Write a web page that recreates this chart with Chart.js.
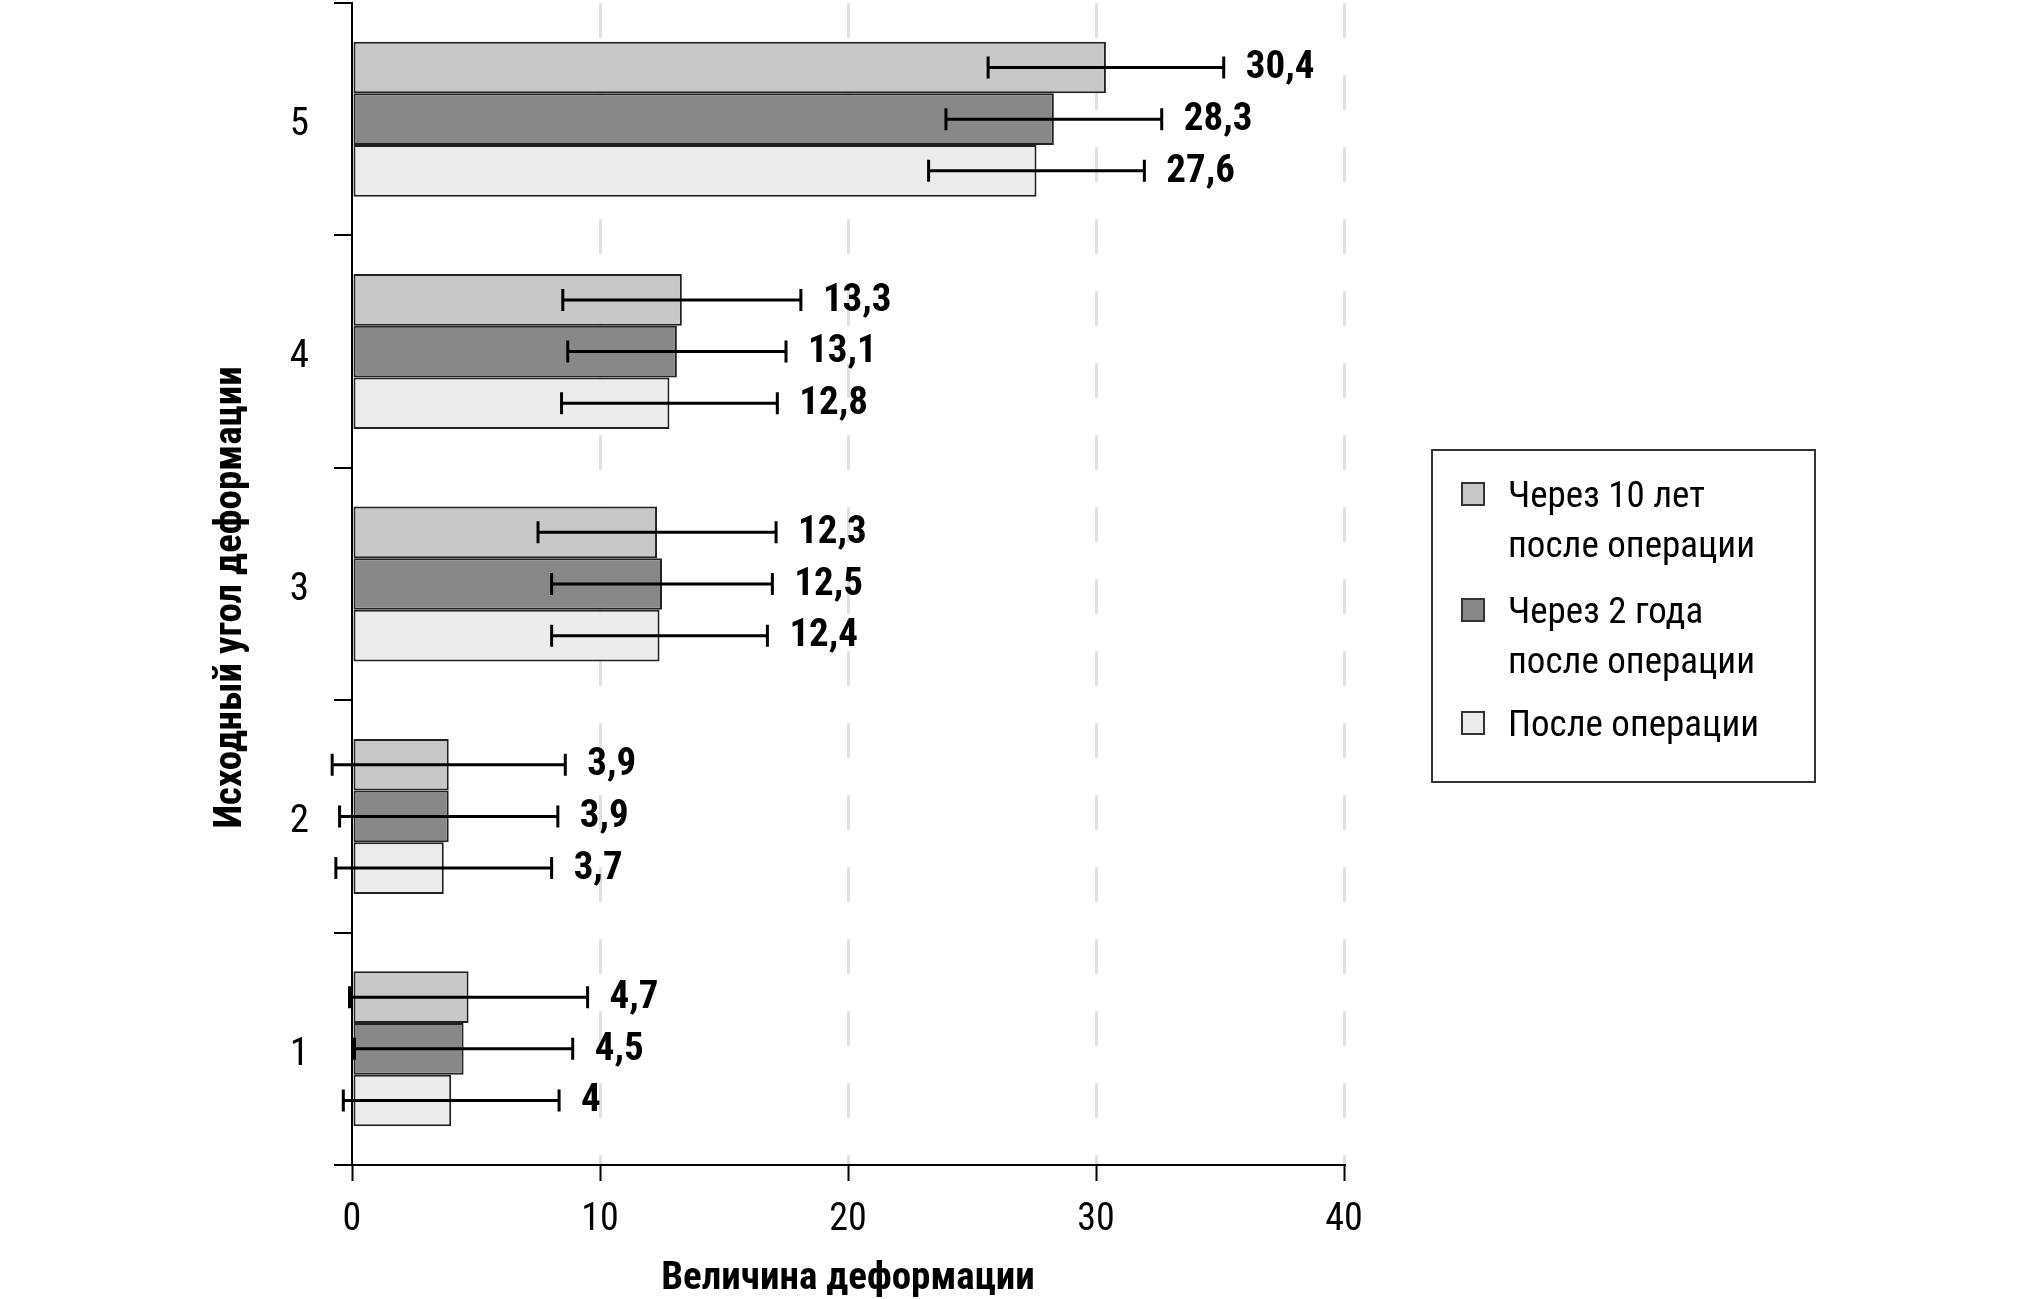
<!DOCTYPE html>
<html lang="ru">
<head>
<meta charset="utf-8">
<title>Величина деформации</title>
<script src="https://cdn.jsdelivr.net/npm/chart.js@4.4.1/dist/chart.umd.min.js"></script>
<style>
  body { margin: 0; background: #fff; }
  #wrap { position: relative; width: 2020px; height: 1299px; }
  #legend {
    position: absolute; left: 1431px; top: 449px; width: 381px; height: 330px;
    border: 2px solid #333; box-sizing: content-box;
    font-family: 'Roboto Condensed', 'Roboto', sans-serif;
    font-size: 37px; color: #000;
  }
  .item { position: absolute; left: 75px; white-space: pre-line; line-height: 50px; }
  .box { position: absolute; left: -47px; top: 12px; width: 20px; height: 20px; border: 2px solid #333; }
</style>
</head>
<body>
<div id="wrap">
  <canvas id="myChart"></canvas>
  <div id="legend"></div>
</div>
<script>
const FONT = "'Roboto Condensed', 'Roboto', sans-serif";

const categories = ['1', '2', '3', '4', '5'];
const seriesNames = ['Через 10 лет\nпосле операции', 'Через 2 года\nпосле операции', 'После операции'];
const seriesColors = ['#c8c8c8', '#888888', '#ececec'];

// bar values
const after10y = [4.7, 3.9, 12.3, 13.3, 30.4];
const after2y = [4.5, 3.9, 12.5, 13.1, 28.3];
const afterOp = [4, 3.7, 12.4, 12.8, 27.6];

// error bar half-widths
const err10y = [4.8, 4.7, 4.8, 4.8, 4.75];
const err2y = [4.4, 4.4, 4.45, 4.4, 4.35];
const errOp = [4.35, 4.35, 4.35, 4.35, 4.35];

const xTicks = [0, 10, 20, 30, 40];

const values = [after10y, after2y, afterOp];
const errors = [err10y, err2y, errOp];

const ctx = document.getElementById('myChart').getContext('2d');

// error bars + value labels, placed with the chart's own scale and bar elements
const errorBars = {
  id: 'errorBars',
  afterDatasetsDraw(chart) {
    const c = chart.ctx;
    const x = chart.scales.x;
    c.save();
    chart.data.datasets.forEach((ds, d) => {
      chart.getDatasetMeta(d).data.forEach((bar, i) => {
        const v = ds.data[i];
        const e = errors[d][i];
        const x0 = x.getPixelForValue(v - e);
        const x1 = x.getPixelForValue(v + e);
        const y = bar.y;
        c.strokeStyle = '#000';
        c.lineWidth = 3;
        c.beginPath();
        c.moveTo(x0, y); c.lineTo(x1, y);
        c.moveTo(x0, y - 11); c.lineTo(x0, y + 11);
        c.moveTo(x1, y - 11); c.lineTo(x1, y + 11);
        c.stroke();
        c.fillStyle = '#000';
        c.font = 'bold 39px ' + FONT;
        c.textAlign = 'left';
        c.textBaseline = 'middle';
        c.fillText(String(v).replace('.', ','), x1 + 22, y + 1);
      });
    });
    c.restore();
  }
};

const data = {
  labels: categories,
  datasets: seriesNames.map((name, d) => ({
    label: name,
    data: values[d],
    backgroundColor: seriesColors[d],
    borderColor: '#222',
    borderWidth: 2,
    borderSkipped: false,
  }))
};

const config = {
  type: 'bar',
  data: data,
  options: {
    indexAxis: 'y',
    responsive: true,
    maintainAspectRatio: false,
    animation: false,
    categoryPercentage: 0.667,
    barPercentage: 1,
    layout: { padding: { top: 3, left: 200, right: 676, bottom: 0 } },
    plugins: {
      legend: { display: false },
      tooltip: { enabled: false },
    },
    scales: {
      x: {
        min: 0,
        max: 40,
        afterBuildTicks: s => { s.ticks = xTicks.map(v => ({ value: v })); },
        afterFit: s => { s.height = 134; s.paddingLeft = 0; s.paddingRight = 0; },
        grid: {
          color: c => c.index === 0 ? 'rgba(0,0,0,0)' : '#e0e0e0',
          lineWidth: 3,
          tickColor: '#000',
          tickWidth: 2,
          tickLength: 16,
        },
        border: { display: true, color: '#000', width: 2, dash: [35, 37] },
        ticks: { color: '#000', padding: 17, font: { family: FONT, size: 38 } },
        title: {
          display: true,
          text: 'Величина деформации',
          color: '#000',
          padding: { top: 0, bottom: 0 },
          font: { family: FONT, size: 39, weight: 'bold', lineHeight: 1 },
        },
      },
      y: {
        reverse: true,
        afterFit: s => { s.width = 152; s.paddingTop = 0; s.paddingBottom = 0; },
        grid: {
          offset: true,
          drawOnChartArea: false,
          color: '#000',
          lineWidth: 2,
          tickLength: 18,
        },
        border: { display: true, color: '#000', width: 2 },
        ticks: { color: '#000', padding: 25, labelOffset: 6, font: { family: FONT, size: 39 } },
        title: {
          display: true,
          text: 'Исходный угол деформации\u00a0\u00a0\u00a0',
          color: '#000',
          padding: { top: 12, bottom: 0 },
          font: { family: FONT, size: 39, weight: 'bold', lineHeight: 1 },
        },
      },
    },
  },
  plugins: [errorBars],
};

const myChart = new Chart(ctx, config);

// legend built from the same series
const legend = document.getElementById('legend');
const tops = [19, 135, 248];
seriesNames.forEach((name, d) => {
  const item = document.createElement('div');
  item.className = 'item';
  item.style.top = tops[d] + 'px';
  item.textContent = name;
  const box = document.createElement('span');
  box.className = 'box';
  box.style.background = seriesColors[d];
  item.appendChild(box);
  legend.appendChild(item);
});
</script>
</body>
</html>
